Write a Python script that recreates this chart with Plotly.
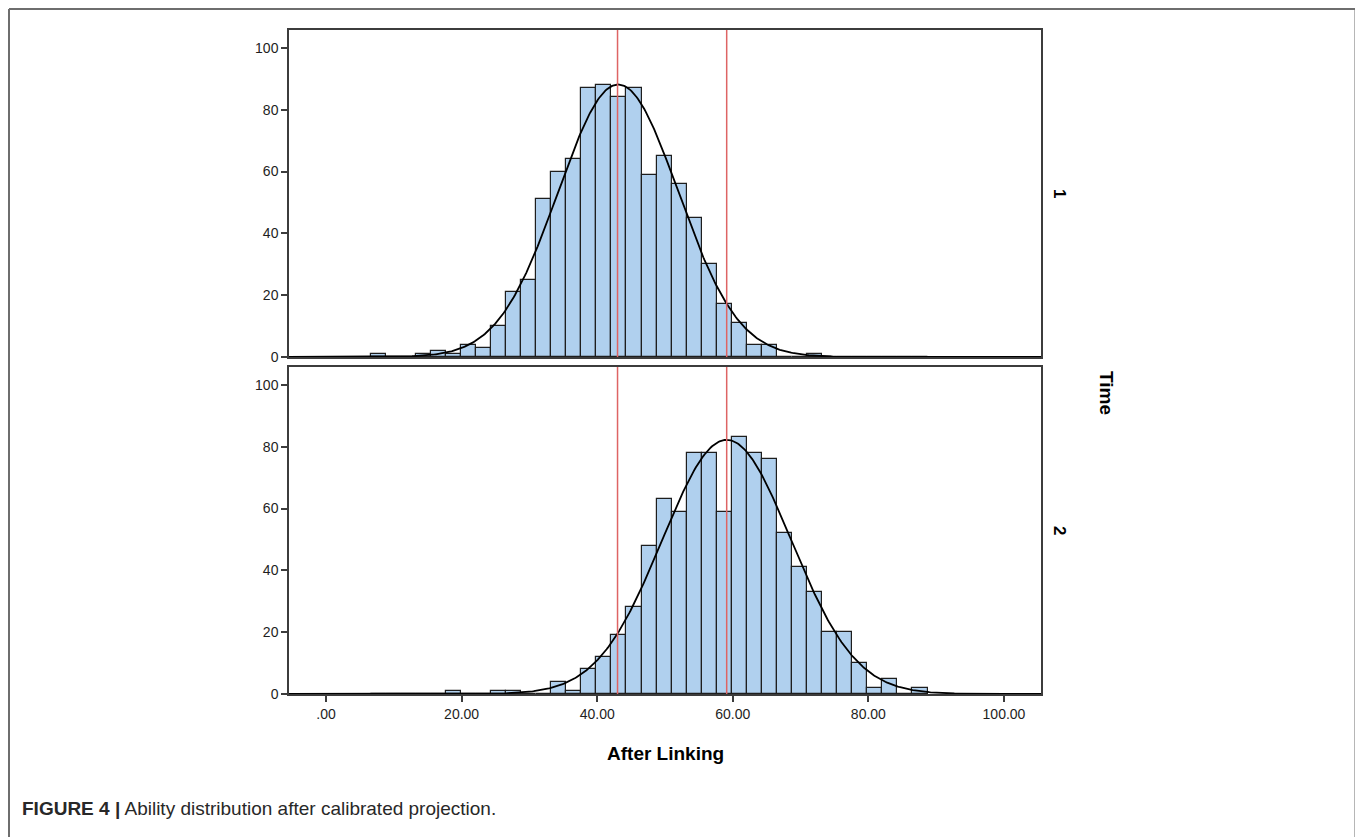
import numpy as np
import plotly.graph_objects as go
from plotly.subplots import make_subplots

# ---------------- data ----------------
bin_left_edges = [6.58, 8.80, 11.02, 13.24, 15.46, 17.68, 19.90, 22.12, 24.34, 26.56,
                  28.78, 31.00, 33.22, 35.44, 37.66, 39.88, 42.10, 44.32, 46.54, 48.76,
                  50.98, 53.20, 55.42, 57.64, 59.86, 62.08, 64.30, 66.52, 68.74, 70.96,
                  73.18, 75.40, 77.62, 79.84, 82.06, 84.28, 86.50]
bin_width = 2.22

counts_time1 = [1, 0, 0, 1, 2, 1, 4, 3, 10, 21,
                25, 51, 60, 64, 87, 88, 84, 87, 59, 65,
                56, 45, 30, 17, 11, 4, 4, 0, 0, 1,
                0, 0, 0, 0, 0, 0, 0]
counts_time2 = [0, 0, 0, 0, 0, 1, 0, 0, 1, 1,
                0, 0, 4, 1, 8, 12, 19, 28, 48, 63,
                59, 78, 78, 59, 83, 78, 76, 52, 41, 33,
                20, 20, 10, 2, 5, 0, 2]

# normal-curve parameters (mean, sd, n)
normal_time1 = (43.1, 8.85, 881)
normal_time2 = (59.1, 9.5, 882)

ref_lines = [43.0, 59.1]  # red vertical reference lines (means)

x_tick_vals = [0, 20, 40, 60, 80, 100]
x_tick_text = [".00", "20.00", "40.00", "60.00", "80.00", "100.00"]
y_tick_vals = [0, 20, 40, 60, 80, 100]
panel_labels = ["1", "2"]

x_title = "After Linking"
facet_title = "Time"
caption_bold = "FIGURE 4 |"
caption_text = " Ability distribution after calibrated projection."

# ---------------- layout geometry ----------------
PAGE_OFF = 8                 # default body margin of the html page
W, H = 1363 - PAGE_OFF, 837 - PAGE_OFF
ML = 289 - PAGE_OFF
MT = 30 - PAGE_OFF
MR = W - (1041 - PAGE_OFF)
MB = H - (694 - PAGE_OFF)
PW, PH = W - ML - MR, H - MT - MB
X_RANGE = [-5.46, 105.46]
Y_RANGE = [0, 105.8]


def px_x(px):
    """screen pixel (as in the reference) -> paper x"""
    return (px - PAGE_OFF - ML) / PW


def px_y(py):
    """screen pixel (as in the reference) -> paper y"""
    return (H - MB - (py - PAGE_OFF)) / PH


BAR_FILL = "rgb(176,208,238)"
EDGE = "rgb(30,30,30)"
AXIS_COL = "rgb(60,60,60)"
RED = "rgb(222,100,100)"
FONT = "Liberation Sans, Arial, sans-serif"

fig = make_subplots(rows=2, cols=1, shared_xaxes=True, vertical_spacing=10 / PH)

centers = [e + bin_width / 2 for e in bin_left_edges]
curve_x = np.linspace(X_RANGE[0], X_RANGE[1], 600)

for row, counts, (mu, sd, n) in [(1, counts_time1, normal_time1), (2, counts_time2, normal_time2)]:
    fig.add_trace(go.Bar(
        x=centers, y=counts, width=bin_width,
        marker=dict(color=BAR_FILL, line=dict(color=EDGE, width=1.2)),
        showlegend=False, hoverinfo="x+y"), row=row, col=1)
    dens = n * bin_width / (sd * np.sqrt(2 * np.pi)) * np.exp(-0.5 * ((curve_x - mu) / sd) ** 2)
    fig.add_trace(go.Scatter(
        x=curve_x, y=dens, mode="lines",
        line=dict(color="black", width=1.8), showlegend=False, hoverinfo="skip"),
        row=row, col=1)
    for v in ref_lines:
        fig.add_shape(type="line", x0=v, x1=v, y0=0, y1=1,
                      xref="x" if row == 1 else "x2",
                      yref="y domain" if row == 1 else "y2 domain",
                      line=dict(color=RED, width=1.5), layer="above")

axis_common = dict(
    showline=True, linecolor=AXIS_COL, linewidth=1.5, mirror=True,
    showgrid=False, zeroline=False,
    ticks="outside", ticklen=6, tickwidth=1.5, tickcolor=AXIS_COL,
    tickfont=dict(family=FONT, size=14, color="rgb(30,30,30)"),
)

fig.update_xaxes(range=X_RANGE, tickvals=x_tick_vals, ticktext=x_tick_text, **axis_common)
fig.update_xaxes(ticks="", showticklabels=False, row=1, col=1)
fig.update_yaxes(range=Y_RANGE, tickvals=y_tick_vals, **axis_common)

fig.update_layout(
    width=W, height=H,
    margin=dict(l=ML, r=MR, t=MT, b=MB),
    plot_bgcolor="white", paper_bgcolor="white",
    bargap=0,
    font=dict(family=FONT, color="rgb(30,30,30)"),
)

annotations = [
    dict(text="<b>" + panel_labels[0] + "</b>", x=px_x(1060), y=px_y(193), textangle=90,
         font=dict(family=FONT, size=17, color="black"), showarrow=False,
         xref="paper", yref="paper", xanchor="center", yanchor="middle"),
    dict(text="<b>" + panel_labels[1] + "</b>", x=px_x(1060), y=px_y(530), textangle=90,
         font=dict(family=FONT, size=17, color="black"), showarrow=False,
         xref="paper", yref="paper", xanchor="center", yanchor="middle"),
    dict(text="<b>" + facet_title + "</b>", x=px_x(1107), y=px_y(393), textangle=90,
         font=dict(family=FONT, size=19, color="black"), showarrow=False,
         xref="paper", yref="paper", xanchor="center", yanchor="middle"),
    dict(text="<b>" + x_title + "</b>", x=px_x(665), y=px_y(753),
         font=dict(family="Liberation Sans Narrow, Arial Narrow, " + FONT, size=19, color="black"),
         showarrow=False, xref="paper", yref="paper", xanchor="center", yanchor="middle"),
    dict(text="<b>" + caption_bold + "</b>" + caption_text, x=px_x(20), y=px_y(808),
         font=dict(family=FONT, size=19, color="rgb(40,40,40)"), showarrow=False,
         xref="paper", yref="paper", xanchor="left", yanchor="middle"),
]
fig.update_layout(annotations=annotations)

# outer figure frame (top, left, right)
frame_col = "rgb(110,110,110)"
for x0, y0, x1, y1 in [(9, 9, 1355.5, 9), (9, 9, 9, 845), (1355.5, 9, 1355.5, 845)]:
    fig.add_shape(type="line", xref="paper", yref="paper",
                  x0=px_x(x0), y0=px_y(y0), x1=px_x(x1), y1=px_y(y1),
                  line=dict(color=frame_col, width=2))

fig.write_html("out.html")
